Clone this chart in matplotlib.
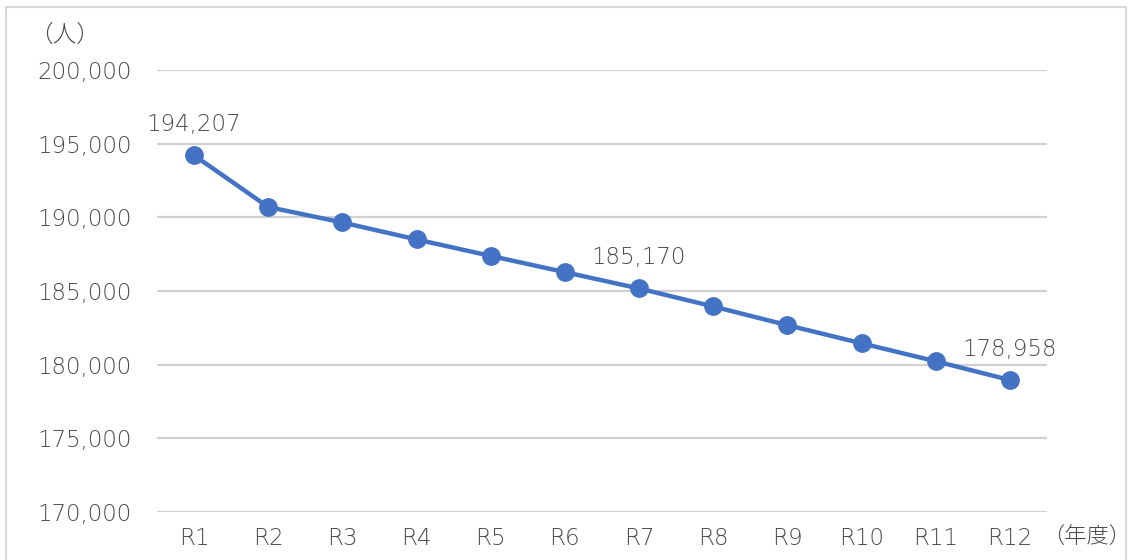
import matplotlib
matplotlib.use("Agg")
import matplotlib.pyplot as plt
from matplotlib.patches import Rectangle

plt.rcParams['font.family'] = ['DejaVu Sans', 'Noto Sans CJK JP']

years = ["R1", "R2", "R3", "R4", "R5", "R6", "R7", "R8", "R9", "R10", "R11", "R12"]
population = [194207, 190700, 189650, 188500, 187380, 186280, 185170, 183950, 182680, 181450, 180230, 178958]
labeled = {0: "194,207", 6: "185,170", 11: "178,958"}
yticks = [170000, 175000, 180000, 185000, 190000, 195000, 200000]

W, H = 1132, 560
fig = plt.figure(figsize=(W / 100, H / 100), dpi=100)
ax = fig.add_axes([157 / W, 1 - 512 / H, (1047 - 157) / W, (512 - 70) / H])

text_color = "#4a4a4a"
line_color = "#4472C4"
fs = 16.5

x = list(range(len(years)))
ax.plot(x, population, color=line_color, lw=3.2, marker="o", markersize=12.5,
        zorder=3, solid_capstyle="round")

for i, txt in labeled.items():
    ax.annotate(txt, (i, population[i]), xytext=(0, 14), textcoords="offset points",
                ha="center", va="bottom", fontsize=fs, color=text_color,
                fontweight="light")

ax.set_xlim(-0.5, len(years) - 0.5)
ax.set_ylim(170000, 200000)
ax.set_yticks(yticks)
ax.set_yticklabels([f"{v:,}" for v in yticks], fontweight="light")
ax.set_xticks(x)
ax.set_xticklabels(years, fontweight="light")
ax.tick_params(axis="both", length=0, labelsize=fs, labelcolor=text_color)
ax.tick_params(axis="y", pad=18)
ax.tick_params(axis="x", pad=11)
ax.grid(axis="y", color="#d0d0d0", lw=1.6)
ax.set_axisbelow(True)
for s in ax.spines.values():
    s.set_visible(False)

jp = ['Noto Sans CJK JP', 'DejaVu Sans']
fig.text(65 / W, 1 - 35 / H, "（人）", ha="center", va="center", fontsize=17,
         color=text_color, family=jp, fontweight="light")
fig.text(1087 / W, 1 - 538 / H, "（年度）", ha="center", va="center", fontsize=16,
         color=text_color, family=jp, fontweight="light")

fig.patches.append(Rectangle((6 / W, -0.1), (1126 - 6) / W, 1.1 - 7 / H,
                             transform=fig.transFigure, fill=False,
                             edgecolor="#d9d9d9", lw=1.5))

fig.savefig("out.png", dpi=100)
